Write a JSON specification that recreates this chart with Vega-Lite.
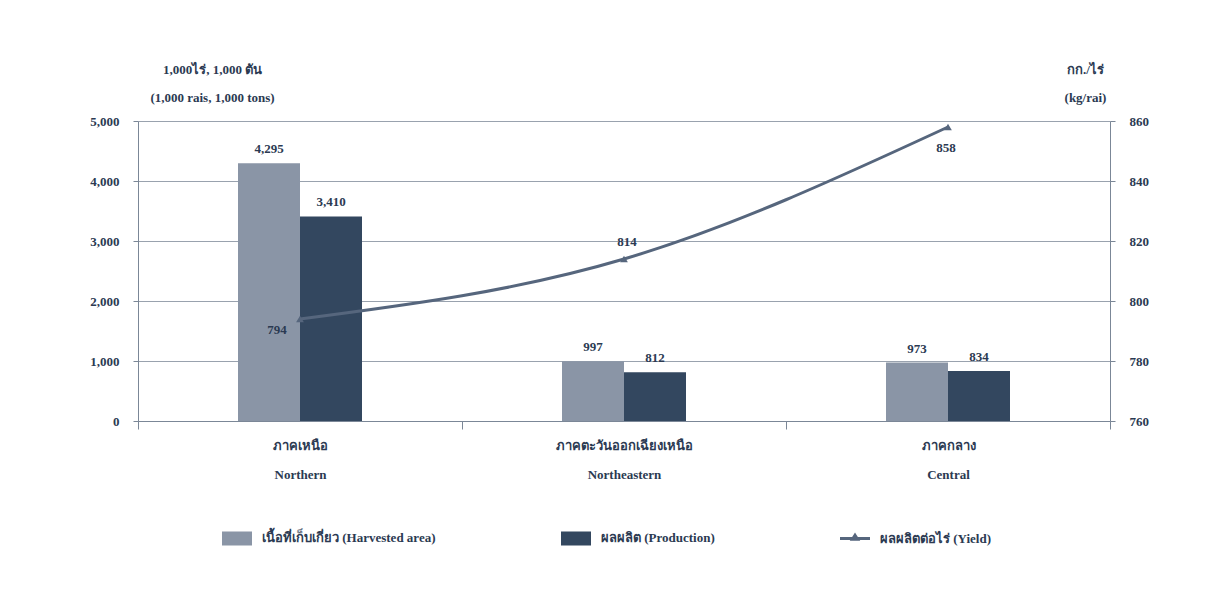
{
  "$schema": "https://vega.github.io/schema/vega-lite/v6.json",
  "width": 972,
  "height": 300,
  "autosize": {"type": "none"},
  "padding": {"left": 138, "top": 121, "right": 101, "bottom": 180},
  "background": "#ffffff",
  "datasets": {
    "bars": [
      {"region": "ภาคเหนือ|Northern", "series": "เนื้อที่เก็บเกี่ยว (Harvested area)", "value": 4295},
      {"region": "ภาคเหนือ|Northern", "series": "ผลผลิต (Production)", "value": 3410},
      {"region": "ภาคตะวันออกเฉียงเหนือ|Northeastern", "series": "เนื้อที่เก็บเกี่ยว (Harvested area)", "value": 997},
      {"region": "ภาคตะวันออกเฉียงเหนือ|Northeastern", "series": "ผลผลิต (Production)", "value": 812},
      {"region": "ภาคกลาง|Central", "series": "เนื้อที่เก็บเกี่ยว (Harvested area)", "value": 973},
      {"region": "ภาคกลาง|Central", "series": "ผลผลิต (Production)", "value": 834}
    ],
    "yield": [
      {"region": "ภาคเหนือ|Northern", "yield": 794},
      {"region": "ภาคตะวันออกเฉียงเหนือ|Northeastern", "yield": 814},
      {"region": "ภาคกลาง|Central", "yield": 858}
    ]
  },
  "config": {
    "font": "Liberation Serif",
    "view": {"stroke": null},
    "axis": {
      "labelFont": "Liberation Serif",
      "labelFontWeight": "bold",
      "labelFontSize": 13,
      "labelColor": "#2b3a52",
      "titleFont": "Liberation Serif",
      "titleFontWeight": "bold",
      "titleFontSize": 13,
      "titleColor": "#2b3a52",
      "domainColor": "#7b8797",
      "tickColor": "#7b8797",
      "gridColor": "#99a2ae"
    },
    "legend": {
      "labelFont": "Liberation Serif",
      "labelFontWeight": "bold",
      "labelFontSize": 13,
      "labelColor": "#2b3a52",
      "labelLimit": 400
    }
  },
  "encoding": {
    "x": {
      "field": "region",
      "type": "nominal",
      "sort": null,
      "scale": {"paddingInner": 0, "paddingOuter": 0},
      "axis": {
        "title": null,
        "labelAngle": 0,
        "labelExpr": "split(datum.label, '|')",
        "labelLineHeight": 29,
        "labelBaseline": "top",
        "labelPadding": 10,
        "tickBand": "extent",
        "tickSize": 8,
        "domainColor": "#7b8797"
      }
    }
  },
  "layer": [
    {
      "data": {"name": "bars"},
      "layer": [
        {
          "mark": {"type": "bar"},
          "encoding": {
            "xOffset": {
              "field": "series",
              "type": "nominal",
              "sort": null,
              "scale": {"paddingInner": 0, "paddingOuter": 0, "range": [100, 224]}
            },
            "y": {
              "field": "value",
              "type": "quantitative",
              "scale": {"domain": [0, 5000], "nice": false},
              "axis": {
                "values": [0, 1000, 2000, 3000, 4000, 5000],
                "format": ",.0f",
                "grid": true,
                "tickSize": 5,
                "labelPadding": 14,
                "title": ["1,000ไร่,  1,000 ตัน", "(1,000 rais,  1,000 tons)"],
                "titleAngle": 0,
                "titleAlign": "center",
                "titleBaseline": "top",
                "titleLineHeight": 28,
                "titleX": 74,
                "titleY": -58
              }
            },
            "color": {
              "field": "series",
              "type": "nominal",
              "scale": {
                "domain": ["เนื้อที่เก็บเกี่ยว (Harvested area)", "ผลผลิต (Production)", "ผลผลิตต่อไร่ (Yield)"],
                "range": ["#8a95a6", "#33475f", "#56667d"]
              },
              "legend": {
                "title": null,
                "orient": "none",
                "direction": "horizontal",
                "legendX": 84,
                "legendY": 402,
                "columnPadding": 125,
                "labelOffset": 10,
                "symbolSize": 900,
                "encode": {
                  "symbols": {
                    "update": {
                      "shape": {"signal": "datum.index === 2 ? 'M-1,-0.1L1,-0.1L1,0.1L-1,0.1Z M-0.35,0.15L0,-0.4L0.35,0.15Z' : 'M-1,-0.467L1,-0.467L1,0.467L-1,0.467Z'"},
                      "size": {"value": 900},
                      "fill": {"scale": "color", "field": "value"},
                      "fillOpacity": {"value": 1},
                      "strokeWidth": {"value": 0}
                    }
                  }
                }
              }
            }
          }
        },
        {
          "mark": {"type": "text", "baseline": "bottom", "dy": -7, "fontWeight": "bold", "fontSize": 13, "color": "#2b3a52"},
          "encoding": {
            "xOffset": {"field": "series", "type": "nominal", "sort": null},
            "y": {"field": "value", "type": "quantitative"},
            "text": {"field": "value", "type": "quantitative", "format": ",.0f"}
          }
        }
      ]
    },
    {
      "data": {"name": "yield"},
      "encoding": {
        "y": {
          "field": "yield",
          "type": "quantitative",
          "scale": {"domain": [760, 860], "nice": false},
          "axis": {
            "orient": "right",
            "values": [760, 780, 800, 820, 840, 860],
            "grid": false,
            "tickSize": 5,
            "labelPadding": 14,
            "title": ["กก./ไร่", "(kg/rai)"],
            "titleAngle": 0,
            "titleAlign": "center",
            "titleBaseline": "top",
            "titleLineHeight": 28,
            "titleX": -25,
            "titleY": -58
          }
        }
      },
      "layer": [
        {
          "mark": {"type": "line", "interpolate": "monotone", "strokeWidth": 3},
          "encoding": {"color": {"datum": "ผลผลิตต่อไร่ (Yield)"}}
        },
        {
          "mark": {"type": "point", "shape": "triangle-up", "filled": true, "size": 60, "opacity": 1},
          "encoding": {"color": {"datum": "ผลผลิตต่อไร่ (Yield)"}}
        },
        {
          "transform": [{"filter": "datum.yield == 794"}],
          "mark": {"type": "text", "dx": -23, "dy": 11, "fontWeight": "bold", "fontSize": 13, "color": "#2b3a52"},
          "encoding": {"text": {"field": "yield", "type": "quantitative"}}
        },
        {
          "transform": [{"filter": "datum.yield == 814"}],
          "mark": {"type": "text", "dx": 3, "dy": -17, "fontWeight": "bold", "fontSize": 13, "color": "#2b3a52"},
          "encoding": {"text": {"field": "yield", "type": "quantitative"}}
        },
        {
          "transform": [{"filter": "datum.yield == 858"}],
          "mark": {"type": "text", "dx": -2, "dy": 21, "fontWeight": "bold", "fontSize": 13, "color": "#2b3a52"},
          "encoding": {"text": {"field": "yield", "type": "quantitative"}}
        }
      ]
    }
  ],
  "resolve": {"scale": {"y": "independent"}}
}
